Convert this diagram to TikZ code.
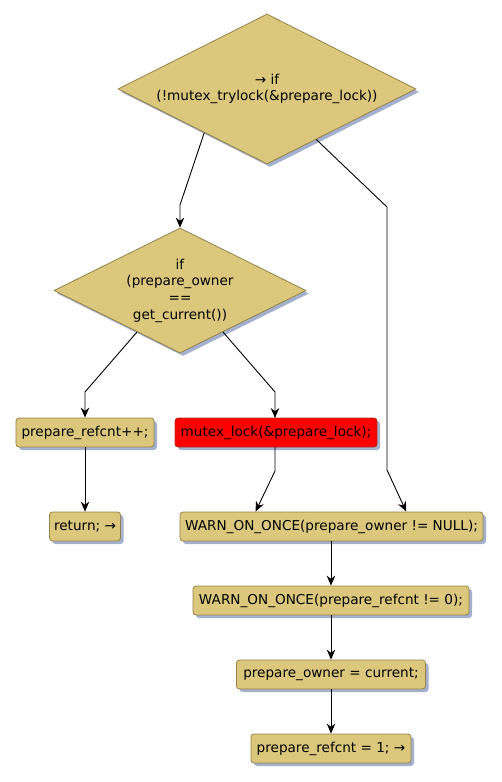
\documentclass[tikz,border=0pt]{standalone}
\usepackage{fontspec}
\setmainfont{DejaVu Sans}
\usetikzlibrary{shapes.geometric,shadows,arrows.meta,calc}
\definecolor{boxfill}{RGB}{220,200,125}
\definecolor{boxline}{RGB}{150,130,70}
\definecolor{shadowc}{RGB}{163,177,207}
\definecolor{redfill}{RGB}{255,0,0}
\definecolor{redline}{RGB}{170,50,40}
\begin{document}
\begin{tikzpicture}[x=1bp,y=-1bp,
 every node/.style={font=\fontsize{13.6bp}{16.7bp}\selectfont},
 sh/.style={general shadow={shadow xshift=3bp,shadow yshift=-3bp,fill=shadowc}},
 stmt/.style={draw=boxline, fill=boxfill, rounded corners=3bp, minimum height=29bp, inner xsep=0pt, inner ysep=0pt, sh, line width=0.8bp},
 redstmt/.style={stmt, draw=redline, fill=redfill},
 cond/.style={diamond, shape aspect=2, draw=boxline, fill=boxfill, sh, align=center, inner sep=0pt, line width=0.8bp},
 flow/.style={draw=black, line width=0.9bp, -{Stealth[length=10bp,width=8.5bp]}}]
\useasboundingbox (0,0) rectangle (502,782);

\node[cond, minimum width=298bp, minimum height=150bp] (d1) at (267,89) {→ if\\(!mutex\_trylock(\&prepare\_lock))};
\node[cond, minimum width=252bp, minimum height=125bp] (d2) at (180,290.5) {if\\(prepare\_owner\\==\\get\_current())};

\node[stmt, minimum width=138bp] (inc) at (85,432.5) {prepare\_refcnt++;};
\node[redstmt, minimum width=202bp] (lock) at (276,432.5) {mutex\_lock(\&prepare\_lock);};
\node[stmt, minimum width=71bp] (ret) at (85,526.5) {return; →};
\node[stmt, minimum width=303bp] (w1) at (331.5,526.5) {WARN\_ON\_ONCE(prepare\_owner != NULL);};
\node[stmt, minimum width=276bp] (w2) at (331,600.5) {WARN\_ON\_ONCE(prepare\_refcnt != 0);};
\node[stmt, minimum width=189bp] (own) at (331,674.5) {prepare\_owner = current;};
\node[stmt, minimum width=160bp] (one) at (331,748.5) {prepare\_refcnt = 1; →};

\coordinate (lockout) at (275,447);
\coordinate (lockin) at (275,418);

\draw[flow] ($(d1.west)!0.58!(d1.south)$) -- (180,205) -- (d2.north);
\draw[flow] ($(d1.east)!0.67!(d1.south)$) -- (387,207) -- (387,470) -- ($(w1.north west)!0.746!(w1.north east)$);
\draw[flow] ($(d2.west)!0.66!(d2.south)$) -- (85,392) -- (inc.north);
\draw[flow] ($(d2.east)!0.66!(d2.south)$) -- (275,392) -- (lockin);
\draw[flow] (inc.south) -- (ret.north);
\draw[flow] (lockout) -- (275,471) -- ($(w1.north west)!0.25!(w1.north east)$);
\draw[flow] (w1.south -| w2.north) -- (w2.north);
\draw[flow] (w2.south) -- (own.north);
\draw[flow] (own.south) -- (one.north);
\end{tikzpicture}
\end{document}
